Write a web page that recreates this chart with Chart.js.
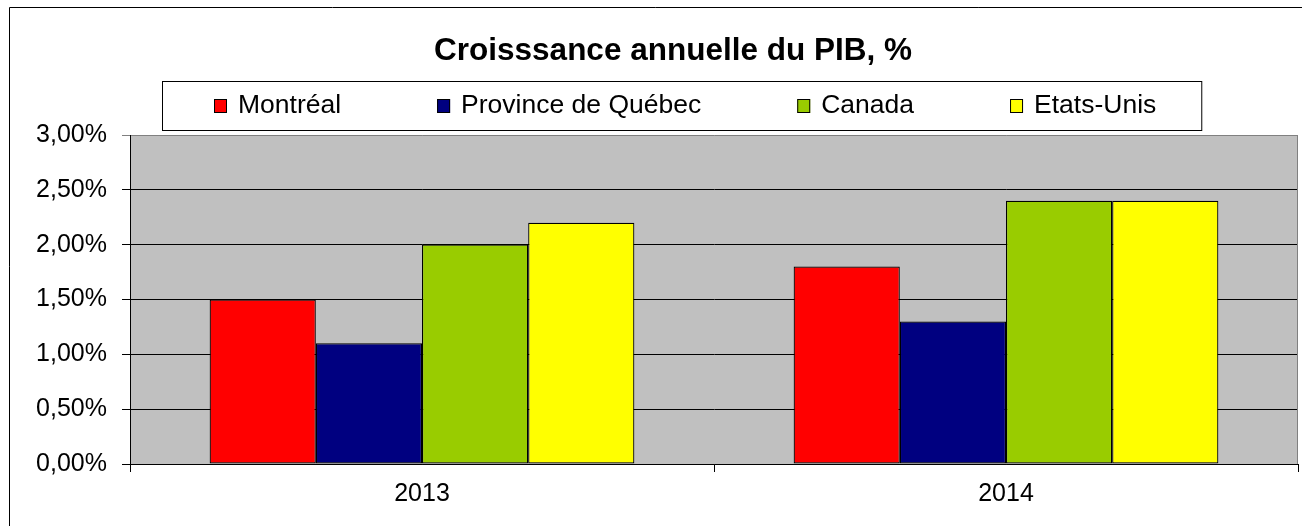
<!DOCTYPE html>
<html><head><meta charset="utf-8">
<script src="https://cdn.jsdelivr.net/npm/chart.js@4/dist/chart.umd.min.js"></script>
<style>html,body{margin:0;padding:0;background:#fff;overflow:hidden;}#wrap{width:1311px;height:526px;}</style>
</head><body><div id="wrap"><canvas id="c" width="1311" height="526"></canvas></div>
<script>
const chartTitle = 'Croisssance annuelle du PIB, %';
const categories = ['2013', '2014'];
const seriesNames = ['Montréal', 'Province de Québec', 'Canada', 'Etats-Unis'];
const seriesColors = ['#FF0000', '#000080', '#99CC00', '#FFFF00'];
const montreal = [1.5, 1.8];
const quebec = [1.1, 1.3];
const canada = [2.0, 2.4];
const etatsUnis = [2.2, 2.4];
const yMin = 0, yMax = 3, yStep = 0.5;

const FONT = '"Liberation Sans", Arial, sans-serif';
const seriesValues = [montreal, quebec, canada, etatsUnis];

const frame = {
  id: 'frame',
  beforeDraw(chart) {
    const {ctx, chartArea: a} = chart;
    ctx.save();
    ctx.fillStyle = '#FFFFFF';
    ctx.fillRect(0, 0, chart.width, chart.height);
    ctx.fillStyle = '#C0C0C0';
    ctx.fillRect(a.left, a.top, a.right - a.left, a.bottom - a.top);
    ctx.restore();
  },
  afterDraw(chart) {
    const {ctx, chartArea: a} = chart;
    ctx.save();
    // outer chart frame (top and left visible)
    ctx.strokeStyle = '#000000';
    ctx.lineWidth = 1;
    ctx.beginPath();
    ctx.moveTo(9.5, chart.height);
    ctx.lineTo(9.5, 7.5);
    ctx.lineTo(1302, 7.5);
    ctx.stroke();
    // plot area right border
    ctx.strokeStyle = '#808080';
    ctx.beginPath();
    ctx.moveTo(Math.round(a.right) - 0.5, a.top);
    ctx.lineTo(Math.round(a.right) - 0.5, a.bottom);
    ctx.stroke();

    // legend
    const ds = chart.data.datasets;
    ctx.font = '26.5px ' + FONT;
    const sq = 13, gapT = 11, gapI = 96;
    const widths = ds.map(d => ctx.measureText(d.label).width);
    const total = widths.reduce((s, w) => s + sq + gapT + w, 0) + gapI * (ds.length - 1);
    let x = Math.round(685.5 - total / 2);
    const boxL = x - 52, boxR = x + total + 45;
    ctx.fillStyle = '#FFFFFF';
    ctx.fillRect(boxL, 81, boxR - boxL, 50);
    ctx.strokeStyle = '#000000';
    ctx.lineWidth = 1;
    ctx.strokeRect(boxL + 0.5, 81.5, boxR - boxL, 49);
    ctx.textBaseline = 'alphabetic';
    ctx.textAlign = 'left';
    ds.forEach((d, i) => {
      ctx.fillStyle = d.backgroundColor;
      ctx.fillRect(x, 99, sq, 14);
      ctx.strokeStyle = '#000000';
      ctx.strokeRect(x + 0.5, 99.5, sq - 1, 13);
      ctx.fillStyle = '#000000';
      ctx.fillText(d.label, x + sq + gapT, 113);
      x += sq + gapT + widths[i] + gapI;
    });
    ctx.restore();
  }
};

new Chart(document.getElementById('c'), {
  type: 'bar',
  data: {
    labels: categories,
    datasets: seriesNames.map((name, i) => ({
      label: name,
      data: seriesValues[i],
      backgroundColor: seriesColors[i],
      borderColor: '#000000',
      borderWidth: 1.2,
      borderSkipped: false,
      categoryPercentage: 4 / 5.5,
      barPercentage: 1
    }))
  },
  options: {
    responsive: false,
    animation: false,
    devicePixelRatio: 1,
    layout: {padding: {left: 48, right: 13, top: 12, bottom: 0}},
    plugins: {
      legend: {display: false},
      tooltip: {enabled: false},
      title: {
        display: true,
        text: chartTitle,
        color: '#000000',
        font: {family: FONT, size: 31.5, weight: 'bold'},
        padding: {top: 20, bottom: 65.2}
      }
    },
    scales: {
      x: {
        offset: true,
        grid: {display: true, drawOnChartArea: false, drawTicks: true, tickLength: 8, offset: true, color: '#000000', lineWidth: 1},
        border: {display: true, color: '#000000', width: 1},
        ticks: {color: '#000000', font: {family: FONT, size: 25}, padding: 7},
        afterFit(s) { s.height = 62; }
      },
      y: {
        min: yMin, max: yMax,
        grid: {
          color: ctx => (ctx.tick && ctx.tick.value === yMax) ? '#808080' : '#000000',
          lineWidth: 1, tickLength: 8, drawTicks: true
        },
        border: {display: true, color: '#000000', width: 1},
        ticks: {
          stepSize: yStep,
          color: '#000000',
          font: {family: FONT, size: 25},
          padding: 15,
          callback: v => Number(v).toFixed(2).replace('.', ',') + '%'
        },
        afterFit(s) {
          s.width = 82;
          s._computeLabelArea = () => undefined;
        }
      }
    }
  },
  plugins: [frame]
});
</script>
</body></html>
